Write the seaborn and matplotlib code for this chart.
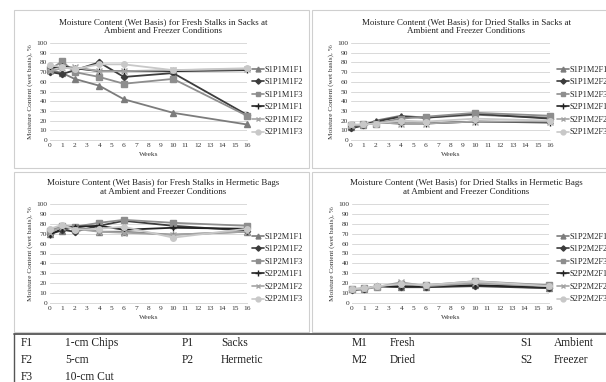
import matplotlib
matplotlib.use("Agg")
import matplotlib.pyplot as plt
import seaborn as sns
import pandas as pd
from matplotlib.patches import Rectangle
from matplotlib.lines import Line2D

# ---------------- Data ----------------
weeks = [0, 1, 2, 4, 6, 10, 16]
week_ticks = list(range(0, 17))
y_ticks = list(range(0, 101, 10))

suffixes = ["S1{}F1", "S1{}F2", "S1{}F3", "S2{}F1", "S2{}F2", "S2{}F3"]

# fresh stalks, sacks (P1M1)
fresh_sacks = [
    [72, 69, 63, 56, 42, 28, 16],
    [70, 68, 72, 80, 65, 69, 26],
    [73, 81, 70, 65, 58, 63, 25],
    [74, 76, 74, 71, 71, 71, 72],
    [71, 74, 75, 71, 71, 72, 73],
    [77, 75, 73, 78, 78, 72, 74],
]
# dried stalks, sacks (P1M2)
dried_sacks = [
    [13, 15, 20, 25, 23, 26, 23],
    [12, 15, 19, 24, 23, 27, 22],
    [15, 16, 17, 22, 24, 28, 25],
    [14, 16, 18, 17, 17, 19, 18],
    [15, 15, 18, 17, 17, 19, 19],
    [16, 16, 17, 20, 19, 22, 20],
]
# fresh stalks, hermetic (P2M1)
fresh_hermetic = [
    [70, 73, 77, 72, 72, 69, 72],
    [70, 74, 72, 78, 83, 78, 73],
    [73, 78, 77, 81, 84, 81, 78],
    [69, 75, 77, 78, 74, 76, 75],
    [71, 77, 75, 72, 71, 69, 72],
    [75, 79, 74, 75, 77, 66, 75],
]
# dried stalks, hermetic (P2M2)
dried_hermetic = [
    [14, 14, 17, 16, 16, 18, 15],
    [13, 14, 17, 16, 16, 17, 15],
    [14, 15, 16, 19, 18, 22, 18],
    [14, 14, 17, 17, 17, 18, 16],
    [14, 14, 16, 21, 17, 20, 17],
    [14, 15, 17, 19, 18, 22, 17],
]

titles = [
    "Moisture Content (Wet Basis) for Fresh Stalks in Sacks at\nAmbient and Freezer Conditions",
    "Moisture Content (Wet Basis) for Dried Stalks in Sacks at\nAmbient and Freezer Conditions",
    "Moisture Content (Wet Basis) for Fresh Stalks in Hermetic Bags\nat Ambient and Freezer Conditions",
    "Moisture Content (Wet Basis) for Dried Stalks in Hermetic Bags\nat Ambient and Freezer Conditions",
]
codes = ["P1M1", "P1M2", "P2M1", "P2M2"]
panels = [fresh_sacks, dried_sacks, fresh_hermetic, dried_hermetic]

key_rows = [
    ["F1", "1-cm Chips", "P1", "Sacks", "M1", "Fresh", "S1", "Ambient"],
    ["F2", "5-cm", "P2", "Hermetic", "M2", "Dried", "S2", "Freezer"],
    ["F3", "10-cm Cut", "", "", "", "", "", ""],
]

# ---------------- Style ----------------
colors = ["#7c7c7c", "#3c3c3c", "#8e8e8e", "#222222", "#a4a4a4", "#c8c8c8"]
markers = ["^", "D", "s", "+", "x", "o"]
msizes = [4, 3.2, 4, 4.5, 4, 4]

sns.set_style("white")
plt.rcParams["font.family"] = ["Liberation Serif", "DejaVu Serif"]

W, H = 606, 382
fig = plt.figure(figsize=(W / 100, H / 100), dpi=100)


def fx(px):
    return px / W


def fy(py):
    return 1 - py / H


# panel boxes (left, top, right, bottom in px)
boxes = [(14, 10, 309, 168), (312, 10, 610, 168), (14, 172, 309, 332), (312, 172, 610, 332)]
for l, t, r, b in boxes:
    fig.add_artist(Rectangle((fx(l), fy(b)), fx(r - l), (b - t) / H, transform=fig.transFigure,
                             fill=False, edgecolor="#cfcfcf", linewidth=0.8))

# axes areas (left, top, right, bottom in px)
areas = [(50, 43, 247, 140), (351, 43, 550, 140), (50, 204, 247, 303), (352, 204, 549, 303)]
title_y = [(21, 32), (21, 32), (182, 193), (182, 193)]
title_x = [163, 466, 163, 466]
legend_cy = [101, 101, 268, 268]
legend_x = [252, 557, 252, 557]

for i, data in enumerate(panels):
    l, t, r, b = areas[i]
    ax = fig.add_axes([fx(l), fy(b), fx(r - l), (b - t) / H])
    labels = [s.format(codes[i]) for s in suffixes]
    for j, vals in enumerate(data):
        df = pd.DataFrame({"Weeks": weeks, "MC": vals})
        sns.lineplot(data=df, x="Weeks", y="MC", ax=ax, color=colors[j], marker=markers[j],
                     markersize=msizes[j], markeredgecolor=colors[j], markeredgewidth=1.0,
                     linewidth=1.3, label=labels[j], clip_on=False, legend=False)
    ax.set_xlim(0, 16)
    ax.set_ylim(0, 100)
    ax.set_xticks(week_ticks)
    ax.set_yticks(y_ticks)
    ax.tick_params(axis="both", labelsize=5.3, length=0, pad=2, colors="#333333")
    ax.grid(axis="y", color="#d9d9d9", linewidth=0.7)
    ax.grid(axis="x", visible=False)
    for side in ["top", "right", "left"]:
        ax.spines[side].set_visible(False)
    ax.spines["bottom"].set_color("#d9d9d9")
    ax.spines["bottom"].set_linewidth(0.7)
    ax.set_xlabel("Weeks", fontsize=5.3, color="#333333", labelpad=3)
    ax.set_ylabel("Moisture Content (wet basis), %", fontsize=5.2, color="#333333", labelpad=2)

    fig.text(fx(title_x[i]), fy((title_y[i][0] + title_y[i][1]) / 2), titles[i], ha="center",
             va="center", fontsize=6.5, color="#222222", linespacing=1.15)

    handles = [Line2D([0], [0], color=colors[j], marker=markers[j], markersize=msizes[j] - 0.5,
                      markeredgecolor=colors[j], linewidth=1.2) for j in range(6)]
    fig.legend(handles, labels, loc="center left",
               bbox_to_anchor=(fx(legend_x[i]), fy(legend_cy[i])), frameon=False,
               fontsize=6.0, handlelength=1.4, handletextpad=0.15, labelspacing=0.55,
               borderaxespad=0, borderpad=0)

# ---------------- Key table ----------------
fig.add_artist(Line2D([fx(14), fx(606)], [fy(334), fy(334)], transform=fig.transFigure,
                      color="#555555", linewidth=1.3))
fig.add_artist(Line2D([fx(14), fx(14)], [fy(334), fy(382)], transform=fig.transFigure,
                      color="#555555", linewidth=1.0))
col_x = [21, 65, 182, 221, 352, 390, 520, 554]
row_y = [343, 360, 377]
for ri, row in enumerate(key_rows):
    for ci, txt in enumerate(row):
        if txt:
            fig.text(fx(col_x[ci]), fy(row_y[ri]), txt, ha="left", va="center", fontsize=8.3,
                     color="#222222")

fig.savefig("out.png", dpi=100)
